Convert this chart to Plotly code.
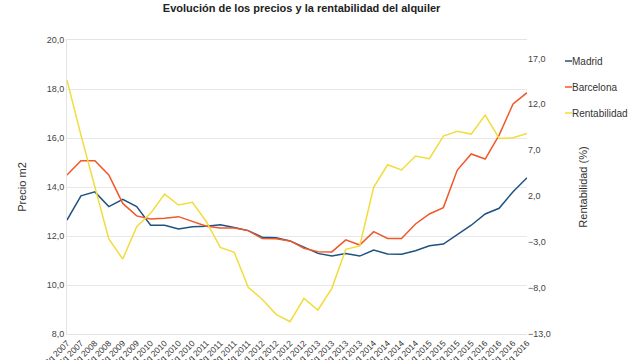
import plotly.graph_objects as go

quarters = ["2q 2007", "4q 2007", "2q 2008", "4q 2008", "2q 2009", "4q 2009",
            "1q 2010", "2q 2010", "3q 2010", "4q 2010",
            "1q 2011", "2q 2011", "3q 2011", "4q 2011",
            "1q 2012", "2q 2012", "3q 2012", "4q 2012",
            "1q 2013", "2q 2013", "3q 2013", "4q 2013",
            "1q 2014", "2q 2014", "3q 2014", "4q 2014",
            "1q 2015", "2q 2015", "3q 2015", "4q 2015",
            "1q 2016", "2q 2016", "3q 2016", "4q 2016"]

madrid = [12.65, 13.64, 13.8, 13.2, 13.5, 13.2, 12.44, 12.44, 12.29, 12.38,
          12.4, 12.46, 12.35, 12.22, 11.95, 11.93, 11.8, 11.55, 11.29, 11.18,
          11.29, 11.18, 11.43, 11.27, 11.26, 11.4, 11.6, 11.67, 12.07, 12.44,
          12.9, 13.13, 13.81, 14.38]

barcelona = [14.49, 15.07, 15.07, 14.49, 13.33, 12.82, 12.69, 12.72, 12.79, 12.61,
             12.4, 12.33, 12.33, 12.22, 11.9, 11.89, 11.8, 11.5, 11.36, 11.35,
             11.84, 11.63, 12.18, 11.9, 11.9, 12.49, 12.9, 13.16, 14.69, 15.35,
             15.14, 16.12, 17.39, 17.85]

rentabilidad = [14.64, 8.65, 3.0, -2.66, -4.84, -1.32, 0.13, 2.23, 1.04, 1.33,
                -0.78, -3.57, -4.11, -7.92, -9.22, -10.86, -11.66, -9.12, -10.39, -8.03,
                -3.78, -3.42, 2.96, 5.42, 4.85, 6.37, 6.08, 8.55, 9.06, 8.76,
                10.83, 8.29, 8.36, 8.84]

FONT = "Liberation Sans, Arial, sans-serif"

fig = go.Figure()
fig.add_trace(go.Scatter(x=quarters, y=madrid, name="Madrid", mode="lines",
                         line=dict(color="#1f5282", width=1.5), legendgroup="a"))
fig.add_trace(go.Scatter(x=quarters, y=barcelona, name="Barcelona", mode="lines",
                         line=dict(color="#f0582a", width=1.5), legendgroup="b"))
fig.add_trace(go.Scatter(x=quarters, y=rentabilidad, name="Rentabilidad", mode="lines",
                         line=dict(color="#f2dc3c", width=1.5), legendgroup="c",
                         yaxis="y2"))

fig.update_layout(
    width=640, height=360,
    margin=dict(l=67, r=104, t=40, b=26),
    paper_bgcolor="white", plot_bgcolor="white",
    separators=",.",
    font=dict(family=FONT, size=9, color="#444"),
    title=dict(text="<b>Evolución de los precios y la rentabilidad del alquiler</b>",
               xref="paper", x=0.51, xanchor="center", y=0.978, yanchor="middle",
               font=dict(family=FONT, size=11, color="#222")),
    showlegend=True,
    legend=dict(x=1.0, xanchor="left", y=0.978, yanchor="top",
                bgcolor="rgba(0,0,0,0)", font=dict(family=FONT, size=10, color="#333"),
                tracegroupgap=7, itemwidth=30),
    xaxis=dict(type="category", tickangle=-45, tickfont=dict(size=8.5, color="#333"),
               showgrid=False, showline=True, linecolor="#e4e4e4", mirror=True,
               ticks="", automargin=False),
    yaxis=dict(range=[8, 20], dtick=2, tick0=8, tickformat=".1f",
               showgrid=True, gridcolor="#e8e8e8", zeroline=False,
               showline=True, linecolor="#e4e4e4", ticks="",
               title=dict(text="Precio m2", font=dict(size=11, color="#333"), standoff=17),
               automargin=False),
    yaxis2=dict(range=[-13, 19], tick0=-13, dtick=5, tickformat=".1f",
                overlaying="y", side="right", showgrid=False, zeroline=False,
                showline=False, ticks="",
                title=dict(text="Rentabilidad (%)", font=dict(size=11, color="#333"), standoff=29),
                automargin=False),
)

post = """
document.body.style.margin = '0';
document.body.style.padding = '0';
document.documentElement.style.margin = '0';
var paths = document.querySelectorAll('.legendlines path');
paths.forEach(function(p){ p.setAttribute('d','M33,0h7'); });
var leg = document.querySelector('g.legend');
if (leg) {
  var tr = leg.getAttribute('transform') || '';
  var m = tr.match(/translate\\(\\s*([-0-9.]+)[ ,]+([-0-9.]+)\\s*\\)/);
  if (m) {
    leg.setAttribute('transform', 'translate(' + (parseFloat(m[1]) + 5) + ',' + m[2] + ')');
  }
}
"""

fig.write_html("out.html", post_script=post, config={"displayModeBar": False})
